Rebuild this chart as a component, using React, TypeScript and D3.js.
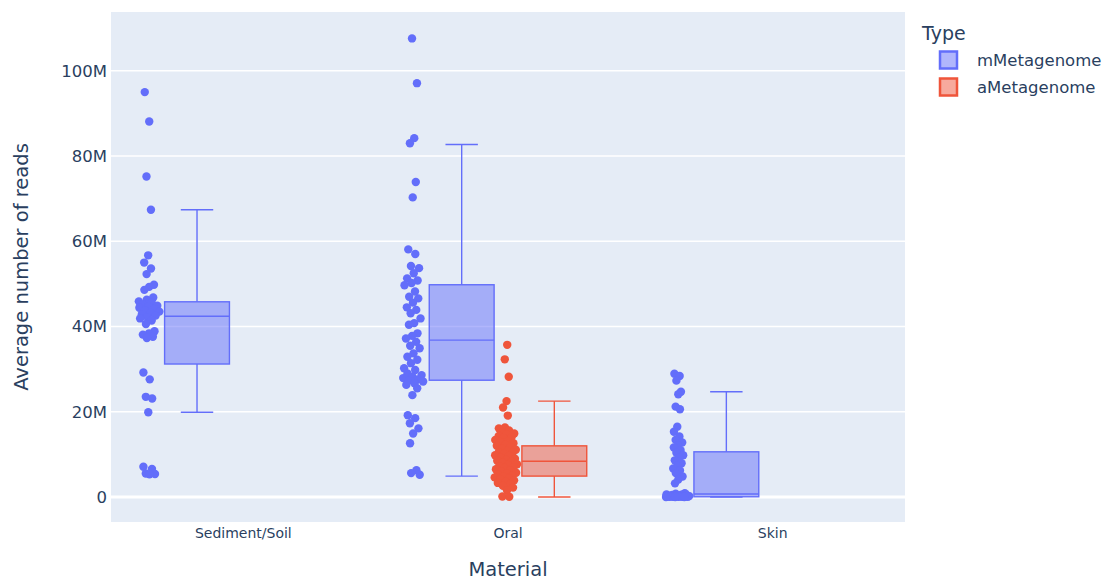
import React from "react";
import * as d3 from "d3";

const categories = ["Sediment/Soil", "Oral", "Skin"];
const seriesNames = ["mMetagenome", "aMetagenome"];
const seriesColors = ["#636efa", "#EF553B"];
const yTickValues = [0, 20, 40, 60, 80, 100]; // millions
const yTickLabels = ["0", "20M", "40M", "60M", "80M", "100M"];

// Box statistics (millions): [lowerFence, q1, median, q3, upperFence]
const mBoxSediment = [19.9, 31.2, 42.4, 45.8, 67.4];
const mBoxOral = [4.9, 27.4, 36.8, 49.8, 82.7];
const mBoxSkin = [0, 0.05, 0.7, 10.6, 24.7];
const aBoxOral = [0, 4.9, 8.4, 12.0, 22.5];

// Points (millions)
const mPointsSediment = [
  95.0, 88.1, 75.2, 67.4, 56.7, 55.0, 53.6, 52.3, 49.8, 49.3, 48.6, 46.8, 46.3, 45.9, 45.6,
  45.2, 44.9, 44.7, 44.4, 44.1, 43.8, 43.5, 43.2, 42.9, 42.6, 42.2, 41.9, 41.4, 40.6, 38.9,
  38.4, 38.1, 37.6, 37.3, 29.2, 27.6, 23.5, 23.1, 19.9, 7.1, 6.6, 5.5, 5.4, 5.3,
];
const mPointsOral = [
  107.6, 97.1, 84.2, 83.0, 73.9, 70.3, 58.1, 57.0, 54.2, 53.7, 52.5, 51.3, 50.8, 50.2, 49.7,
  48.2, 47.0, 46.6, 45.6, 44.5, 43.9, 43.1, 41.9, 40.8, 40.4, 38.4, 37.8, 37.2, 36.4, 35.5,
  34.9, 33.7, 32.9, 32.2, 31.4, 30.2, 29.8, 29.0, 28.6, 28.2, 27.9, 27.6, 27.4, 27.1, 26.7,
  26.3, 25.5, 23.9, 19.2, 18.5, 17.3, 16.1, 14.9, 12.6, 6.3, 5.6, 5.2,
];
const aPointsOral = [
  35.7, 32.3, 28.2, 22.5, 21.0, 19.1, 16.3, 16.1, 15.6, 15.2, 14.9, 14.7, 14.3, 14.0, 13.8,
  13.4, 13.1, 12.9, 12.6, 12.2, 12.0, 11.7, 11.3, 11.1, 10.8, 10.5, 10.4, 10.1, 9.8, 9.6,
  9.2, 9.0, 8.7, 8.5, 8.3, 8.0, 7.7, 7.5, 7.2, 7.0, 6.8, 6.5, 6.2, 6.0, 5.7, 5.5, 5.3, 5.0,
  4.8, 4.6, 4.4, 4.2, 3.9, 3.6, 3.3, 3.0, 2.6, 2.2, 1.6, 0.1, 0.05,
];
const mPointsSkin = [
  28.9, 28.4, 27.3, 24.7, 24.1, 21.2, 20.6, 16.5, 15.3, 14.2, 13.4, 12.8, 12.1, 11.6, 11.0,
  10.4, 9.8, 9.2, 8.6, 7.9, 7.3, 6.7, 6.2, 5.6, 4.8, 4.1, 3.2, 0.9, 0.75, 0.6, 0.52, 0.45,
  0.4, 0.35, 0.3, 0.27, 0.24, 0.21, 0.18, 0.15, 0.13, 0.1, 0.08, 0.06, 0.05, 0.04, 0.03,
  0.02, 0.01, 0.0, 0.0,
];

type Group = { cat: string; series: number; box: number[]; points: number[] };
const groups: Group[] = [
  { cat: categories[0], series: 0, box: mBoxSediment, points: mPointsSediment },
  { cat: categories[1], series: 0, box: mBoxOral, points: mPointsOral },
  { cat: categories[1], series: 1, box: aBoxOral, points: aPointsOral },
  { cat: categories[2], series: 0, box: mBoxSkin, points: mPointsSkin },
];

const W = 1110;
const H = 581;
const plot = { left: 111, right: 905, top: 12, bottom: 522 };
const FONT = "'DejaVu Sans', sans-serif";
const TXT = "#2a3f5f";

export default function App() {
  const x = d3.scaleBand<string>().domain(categories).range([plot.left, plot.right]).paddingInner(0).paddingOuter(0);
  const y = d3.scaleLinear().domain([-5.87, 113.8]).range([plot.bottom, plot.top]);
  const band = x.bandwidth();
  const groupWidth = band * 0.7;
  const slot = groupWidth / seriesNames.length;
  const boxW = slot * 0.7;

  const slotCenter = (cat: string, s: number) =>
    (x(cat) as number) + band / 2 - groupWidth / 2 + slot * (s + 0.5);

  const renderGroup = (g: Group, gi: number) => {
    const color = seriesColors[g.series];
    const cx = slotCenter(g.cat, g.series);
    const [lo, q1, med, q3, hi] = g.box;
    const bx = cx - boxW / 2;
    const capW = boxW / 2;
    const pcx = cx - boxW * 0.75;
    // density-scaled jitter
    const win = 1.6;
    const dens = g.points.map((v) => g.points.filter((u) => Math.abs(u - v) <= win).length);
    const maxD = d3.max(dens) as number;
    const maxJ = 12;
    return (
      <g key={gi}>
        <line x1={cx} x2={cx} y1={y(q3)} y2={y(hi)} stroke={color} strokeWidth={1.4} />
        <line x1={cx} x2={cx} y1={y(q1)} y2={y(lo)} stroke={color} strokeWidth={1.4} />
        <line x1={cx - capW / 2} x2={cx + capW / 2} y1={y(hi)} y2={y(hi)} stroke={color} strokeWidth={1.4} />
        <line x1={cx - capW / 2} x2={cx + capW / 2} y1={y(lo)} y2={y(lo)} stroke={color} strokeWidth={1.4} />
        <rect x={bx} y={y(q3)} width={boxW} height={y(q1) - y(q3)} fill={color} fillOpacity={0.5} stroke={color} strokeWidth={1.4} />
        <line x1={bx} x2={bx + boxW} y1={y(med)} y2={y(med)} stroke={color} strokeWidth={1.4} />
        {g.points.map((v, i) => {
          const r = ((i * 0.61803398875 + gi * 0.37) % 1) * 2 - 1;
          const amp = maxJ * Math.sqrt(dens[i] / maxD);
          return <circle key={i} cx={pcx + r * amp} cy={y(v)} r={4.2} fill={color} />;
        })}
      </g>
    );
  };

  return (
    <svg width={W} height={H} style={{ position: "absolute", left: 0, top: 0, fontFamily: FONT }}>
      <rect x={0} y={0} width={W} height={H} fill="#fff" />
      <rect x={plot.left} y={plot.top} width={plot.right - plot.left} height={plot.bottom - plot.top} fill="#E5ECF6" />
      {yTickValues.map((t, i) => (
        <g key={t}>
          <line x1={plot.left} x2={plot.right} y1={y(t)} y2={y(t)} stroke="#fff" strokeWidth={t === 0 ? 2.8 : 1.4} />
          <text x={plot.left - 4} y={y(t)} dy="0.35em" textAnchor="end" fontSize={16.5} fill={TXT}>
            {yTickLabels[i]}
          </text>
        </g>
      ))}
      {groups.map(renderGroup)}
      {categories.map((c) => (
        <text key={c} x={(x(c) as number) + band / 2} y={538} textAnchor="middle" fontSize={14} fill={TXT}>
          {c}
        </text>
      ))}
      <text x={(plot.left + plot.right) / 2} y={576} textAnchor="middle" fontSize={19.5} fill={TXT}>
        Material
      </text>
      <text
        transform={`translate(28,${(plot.top + plot.bottom) / 2}) rotate(-90)`}
        textAnchor="middle"
        fontSize={19.5}
        fill={TXT}
      >
        Average number of reads
      </text>
      <text x={922} y={40} fontSize={19} fill={TXT}>Type</text>
      {seriesNames.map((s, i) => (
        <g key={s} transform={`translate(0,${60 + i * 27})`}>
          <rect x={940} y={-8.5} width={17} height={17} fill={seriesColors[i]} fillOpacity={0.5} stroke={seriesColors[i]} strokeWidth={2.5} />
          <text x={977} y={0} dy="0.35em" fontSize={16.5} fill={TXT}>{s}</text>
        </g>
      ))}
    </svg>
  );
}
